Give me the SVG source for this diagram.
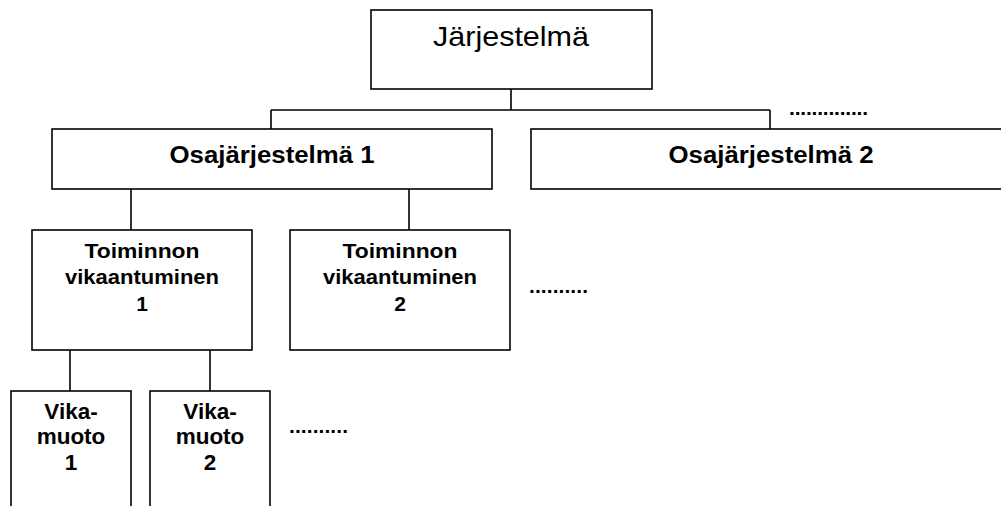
<svg xmlns="http://www.w3.org/2000/svg" width="1001" height="506" viewBox="0 0 1001 506">
  <style>
    .box { fill: #ffffff; stroke: #000000; stroke-width: 1.6; }
    .conn { fill: none; stroke: #000000; stroke-width: 1.6; }
    .t { font-family: "Liberation Sans", Arial, sans-serif; fill: #000000; text-anchor: middle; }
    .reg { font-size: 28px; }
    .b1 { font-size: 23px; font-weight: bold; }
    .b2 { font-size: 21px; font-weight: bold; }
    .b3 { font-size: 22.5px; font-weight: bold; }
    .dots { font-family: "Liberation Sans", Arial, sans-serif; font-size: 21px; font-weight: bold; fill: #000000; }
  </style>
  <rect width="1001" height="506" fill="#ffffff"/>
  <g id="connectors">
    <path class="conn" d="M511,89 V110 M271,110 H770 M271,110 V129 M770,110 V129"/>
    <path class="conn" d="M131,189 V230 M409,189 V230"/>
    <path class="conn" d="M70,350 V391 M210,350 V391"/>
  </g>
  <g id="jarjestelma">
    <rect class="box" x="371" y="10" width="281" height="79"/>
    <text class="t reg" x="511" y="46" textLength="156" lengthAdjust="spacingAndGlyphs">Järjestelmä</text>
  </g>
  <g id="osa1">
    <rect class="box" x="52" y="129" width="440" height="60"/>
    <text class="t b1" x="272" y="163" textLength="205" lengthAdjust="spacingAndGlyphs">Osajärjestelmä 1</text>
  </g>
  <g id="osa2">
    <rect class="box" x="531" y="129" width="490" height="60"/>
    <text class="t b1" x="771" y="163" textLength="205" lengthAdjust="spacingAndGlyphs">Osajärjestelmä 2</text>
  </g>
  <g id="dots-top">
    <text class="dots" x="789" y="115" textLength="79" lengthAdjust="spacing">..............</text>
  </g>
  <g id="toiminto1">
    <rect class="box" x="32" y="230" width="220" height="120"/>
    <text class="t b2" x="142" y="258" textLength="115" lengthAdjust="spacingAndGlyphs">Toiminnon</text>
    <text class="t b2" x="142" y="284" textLength="154" lengthAdjust="spacingAndGlyphs">vikaantuminen</text>
    <text class="t b2" x="142" y="311">1</text>
  </g>
  <g id="toiminto2">
    <rect class="box" x="290" y="230" width="220" height="120"/>
    <text class="t b2" x="400" y="258" textLength="115" lengthAdjust="spacingAndGlyphs">Toiminnon</text>
    <text class="t b2" x="400" y="284" textLength="154" lengthAdjust="spacingAndGlyphs">vikaantuminen</text>
    <text class="t b2" x="400" y="311">2</text>
  </g>
  <g id="dots-mid">
    <text class="dots" x="529" y="293" textLength="59" lengthAdjust="spacing">..........</text>
  </g>
  <g id="vika1">
    <rect class="box" x="11" y="391" width="120" height="130"/>
    <text class="t b3" x="71" y="419">Vika-</text>
    <text class="t b3" x="71" y="444">muoto</text>
    <text class="t b3" x="71" y="470">1</text>
  </g>
  <g id="vika2">
    <rect class="box" x="150" y="391" width="120" height="130"/>
    <text class="t b3" x="210" y="419">Vika-</text>
    <text class="t b3" x="210" y="444">muoto</text>
    <text class="t b3" x="210" y="470">2</text>
  </g>
  <g id="dots-low">
    <text class="dots" x="289" y="433" textLength="59" lengthAdjust="spacing">..........</text>
  </g>
</svg>
